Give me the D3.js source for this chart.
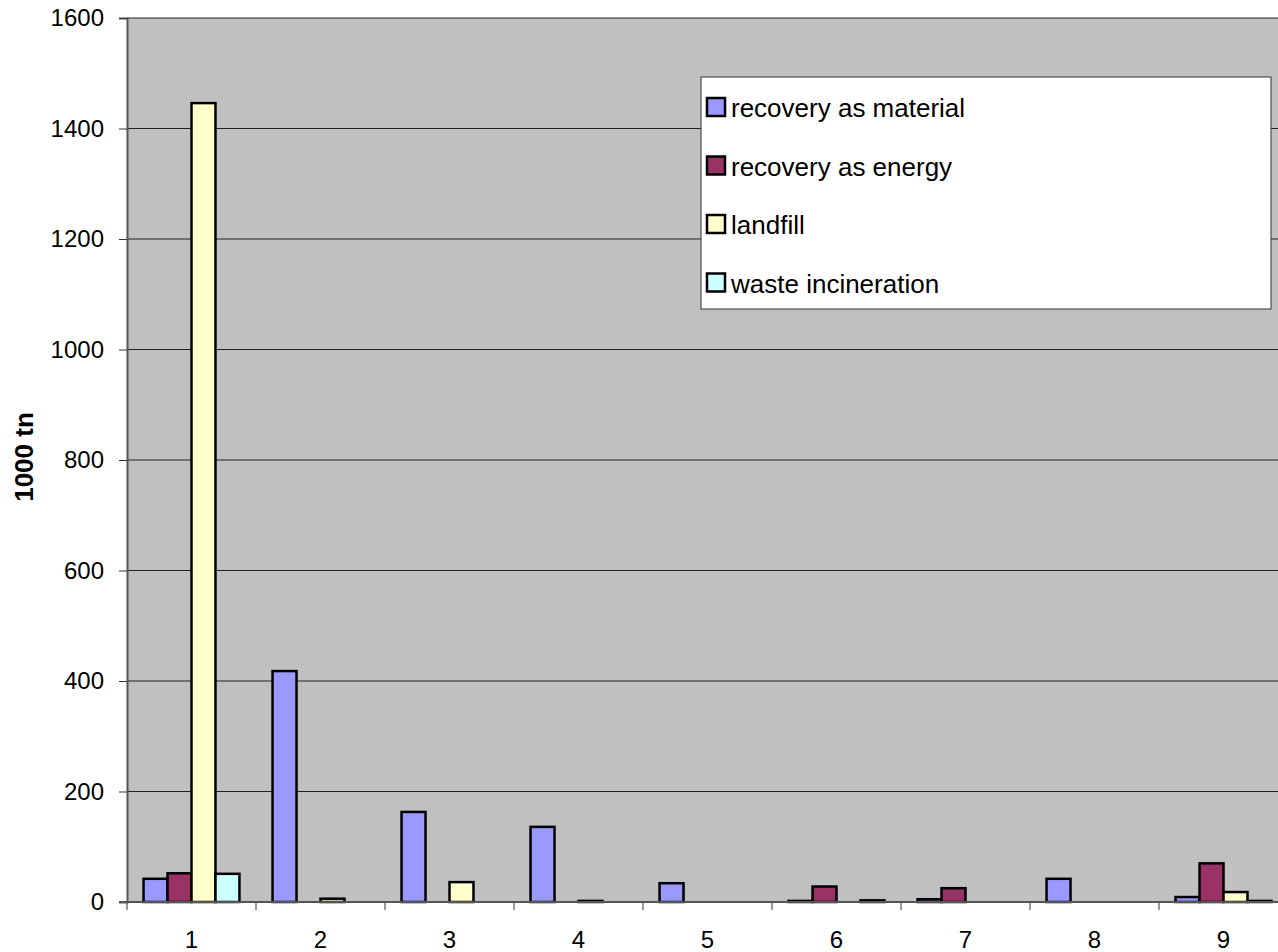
<!DOCTYPE html>
<html>
<head>
<meta charset="utf-8">
<script src="https://cdn.jsdelivr.net/npm/d3@7"></script>
<style>
  html, body { margin: 0; padding: 0; background: #fff; overflow: hidden; }
  svg { display: block; font-family: "Liberation Sans", Arial, sans-serif; }
</style>
</head>
<body>
<div id="chart"></div>
<script>
const categories = ["1", "2", "3", "4", "5", "6", "7", "8", "9"];
const seriesNames = ["recovery as material", "recovery as energy", "landfill", "waste incineration"];
const material = [42, 418, 163, 136, 34, 2, 5, 42, 9];
const energy = [52, 0, 0, 0, 0, 28, 25, 0, 70];
const landfill = [1446, 6, 36, 2, 0, 0, 0, 0, 18];
const incineration = [51, 0, 0, 0, 0, 3, 0, 0, 2];
const yTicks = [0, 200, 400, 600, 800, 1000, 1200, 1400, 1600];
const colors = ["#9999FF", "#993366", "#FFFFCC", "#CCFFFF"];

const allSeries = [material, energy, landfill, incineration];

const svgWidth = 1278;
const svgHeight = 952;
const plotLeft = 127, plotTop = 18;
const plotW = 1161, plotH = 884;

const svg = d3.select("#chart")
  .append("svg")
  .attr("width", svgWidth)
  .attr("height", svgHeight);

const xScale = d3.scaleBand()
  .domain(categories)
  .range([plotLeft, plotLeft + plotW])
  .padding(0);

const innerScale = d3.scaleBand()
  .domain(seriesNames)
  .range([0, xScale.bandwidth()])
  .paddingInner(0)
  .paddingOuter(0.69);

const yScale = d3.scaleLinear()
  .domain([0, 1600])
  .range([plotTop + plotH, plotTop]);

// plot background
svg.append("rect")
  .attr("x", plotLeft)
  .attr("y", plotTop)
  .attr("width", plotW)
  .attr("height", plotH)
  .attr("fill", "#C0C0C0");

// gridlines
svg.append("g")
  .selectAll("line")
  .data(yTicks.filter(d => d > 0))
  .enter()
  .append("line")
    .attr("x1", plotLeft)
    .attr("x2", plotLeft + plotW)
    .attr("y1", d => yScale(d))
    .attr("y2", d => yScale(d))
    .attr("stroke", "#222")
    .attr("stroke-width", 1);

// y axis
const yAxis = d3.axisLeft(yScale)
  .tickValues(yTicks)
  .tickSize(8)
  .tickPadding(15)
  .tickFormat(d3.format("d"));

const yg = svg.append("g")
  .attr("transform", `translate(${plotLeft}, 0)`)
  .call(yAxis);
yg.select(".domain").attr("stroke", "#555").attr("stroke-width", 2);
yg.selectAll(".tick line").attr("stroke", "#333");
yg.selectAll("text")
  .attr("font-size", "24px")
  .attr("fill", "#000")
  .style("font-family", "Liberation Sans, Arial, sans-serif");

// x axis
const xAxis = d3.axisBottom(xScale).tickSize(0).tickPadding(29);
const xg = svg.append("g")
  .attr("transform", `translate(0, ${plotTop + plotH})`)
  .call(xAxis);
xg.select(".domain").remove();
xg.selectAll("text")
  .attr("font-size", "24px")
  .attr("fill", "#000")
  .style("font-family", "Liberation Sans, Arial, sans-serif");

// x ticks between categories
svg.append("g")
  .selectAll("line")
  .data(categories)
  .enter()
  .append("line")
    .attr("x1", d => xScale(d))
    .attr("x2", d => xScale(d))
    .attr("y1", plotTop + plotH)
    .attr("y2", plotTop + plotH + 8)
    .attr("stroke", "#333");

// bars
const barData = [];
categories.forEach((c, i) => {
  seriesNames.forEach((s, j) => {
    const v = allSeries[j][i];
    if (v > 0) barData.push({cat: c, series: s, value: v, color: colors[j]});
  });
});

svg.append("g")
  .selectAll("rect")
  .data(barData)
  .enter()
  .append("rect")
    .attr("x", d => xScale(d.cat) + innerScale(d.series))
    .attr("y", d => yScale(d.value))
    .attr("width", innerScale.bandwidth())
    .attr("height", d => yScale(0) - yScale(d.value))
    .attr("fill", d => d.color)
    .attr("stroke", "#000")
    .attr("stroke-width", 2.5);

// bottom axis line
svg.append("line")
  .attr("x1", plotLeft - 8)
  .attr("x2", plotLeft + plotW)
  .attr("y1", yScale(0))
  .attr("y2", yScale(0))
  .attr("stroke", "#555")
  .attr("stroke-width", 2);

// y axis title
svg.append("text")
  .attr("transform", `translate(33, 457) rotate(-90)`)
  .attr("text-anchor", "middle")
  .attr("font-size", "26px")
  .attr("font-weight", "bold")
  .text("1000 tn");

// legend
const legend = svg.append("g").attr("transform", "translate(701, 77)");
legend.append("rect")
  .attr("width", 570)
  .attr("height", 232)
  .attr("fill", "#fff")
  .attr("stroke", "#333")
  .attr("stroke-width", 1);

const items = legend.selectAll(".item")
  .data(seriesNames)
  .enter()
  .append("g")
    .attr("class", "item")
    .attr("transform", (d, i) => `translate(0, ${31 + i * 58.5})`);

items.append("rect")
  .attr("x", 6)
  .attr("y", -10)
  .attr("width", 18)
  .attr("height", 18)
  .attr("fill", (d, i) => colors[i])
  .attr("stroke", "#000")
  .attr("stroke-width", 2.5);

items.append("text")
  .attr("x", 30)
  .attr("y", 9)
  .attr("font-size", "26px")
  .text(d => d);
</script>
</body>
</html>
